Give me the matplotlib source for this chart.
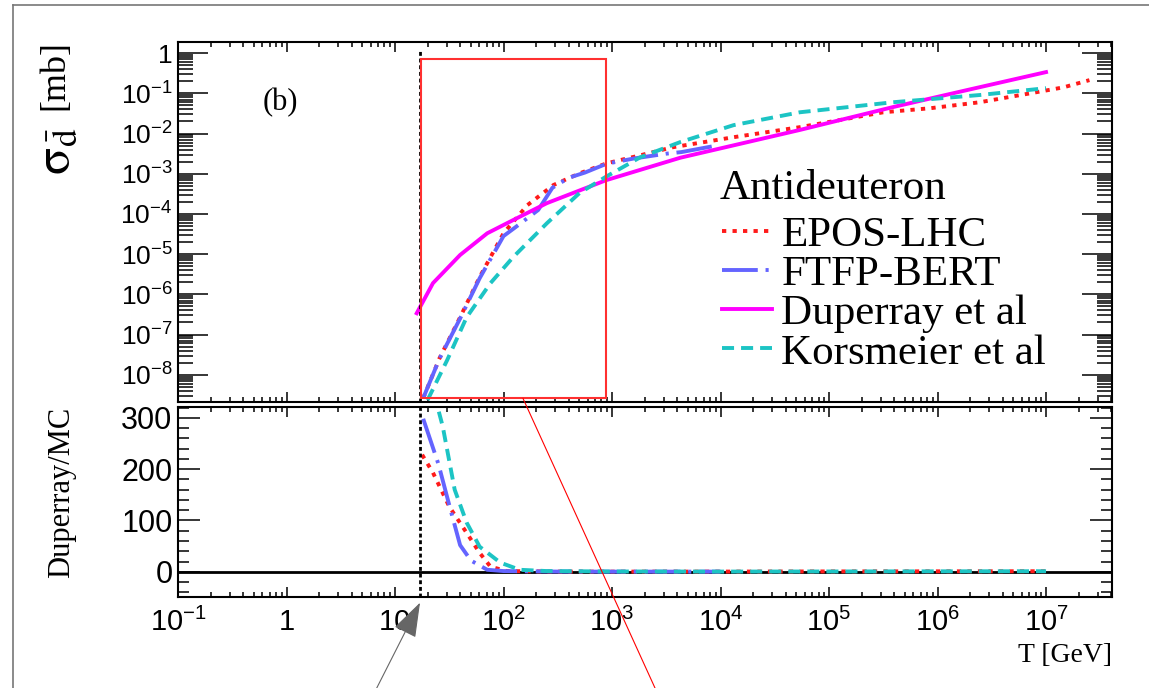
import numpy as np
import matplotlib
matplotlib.use("Agg")
import matplotlib.pyplot as plt
from matplotlib.ticker import LogLocator, MultipleLocator, FixedLocator, FuncFormatter, NullFormatter
from matplotlib.patches import Rectangle, ConnectionPatch
from matplotlib.lines import Line2D

plt.rcParams['mathtext.fontset'] = 'stix'

SANS = 'Liberation Sans'
SERIF = 'Liberation Serif'

# cross sections, log10(T/GeV) vs log10(sigma/mb)
epos_logT = [1.26, 1.41, 1.60, 1.78, 2.00, 2.22, 2.46, 2.70, 2.95, 3.26, 3.56, 4.12, 4.73, 5.50, 5.93, 6.39, 6.85, 7.16, 7.40]
epos_logs = [-8.58, -7.59, -6.57, -5.57, -4.48, -3.78, -3.28, -2.99, -2.74, -2.54, -2.34, -2.09, -1.84, -1.47, -1.37, -1.22, -1.00, -0.85, -0.67]

ftfp_logT = [1.26, 1.41, 1.60, 1.78, 2.00, 2.10, 2.32, 2.45, 2.60, 2.75, 2.95, 3.20, 3.50, 3.64, 3.98]
ftfp_logs = [-8.58, -7.60, -6.60, -5.60, -4.55, -4.35, -3.90, -3.35, -3.10, -2.97, -2.75, -2.62, -2.50, -2.46, -2.29]

dup_logT = [1.20, 1.35, 1.60, 1.85, 2.09, 2.40, 2.945, 3.63, 4.73, 5.59, 6.30, 7.00]
dup_logs = [-6.47, -5.72, -5.02, -4.48, -4.15, -3.73, -3.16, -2.60, -1.91, -1.34, -0.90, -0.47]

kors_logT = [1.30, 1.48, 1.66, 1.88, 2.09, 2.40, 2.70, 2.94, 3.26, 3.63, 4.12, 4.73, 5.59, 6.39, 7.00]
kors_logs = [-8.63, -7.64, -6.57, -5.72, -5.07, -4.23, -3.48, -3.08, -2.59, -2.21, -1.79, -1.47, -1.22, -1.04, -0.87]

# ratio Duperray / MC
r_epos_logT = [1.25, 1.35, 1.50, 1.66, 1.78, 1.88, 2.03, 2.50, 3.00, 4.00, 5.00, 6.00, 7.00]
r_epos = [228, 193, 127, 76, 37, 10, 1.5, 0.5, 0.4, 0.5, 0.8, 1.0, 1.2]

r_ftfp_logT = [1.26, 1.40, 1.50, 1.60, 1.70, 1.85, 2.00, 2.50, 3.00, 4.00]
r_ftfp = [298, 210, 130, 52, 22, 4, 1.5, 0.5, 0.4, 0.4]

r_kors_logT = [1.28, 1.40, 1.44, 1.55, 1.66, 1.78, 1.97, 2.15, 2.40, 3.00, 4.00, 5.00, 6.00, 7.00]
r_kors = [420, 315, 283, 160, 96, 49, 18, 4, 1.5, 0.7, 0.5, 0.7, 1.0, 1.2]

labels = ['EPOS-LHC', 'FTFP-BERT', 'Duperray et al', 'Korsmeier et al']
colors = ['#ff1a1a', '#6464ff', '#ff00ff', '#1cc4c4']
LW = 2.8
styles = [(0, (1.1, 1.6)), (0, (9.2, 2.0, 0.8, 2.0)), '-', (0, (3.1, 1.8))]

sigma_decades = [1e-8, 1e-7, 1e-6, 1e-5, 1e-4, 1e-3, 1e-2, 1e-1, 1.0]

T_cut = 17.0          # vertical marker
box_x = (17.5, 880.0)  # highlighted region
box_y = (2.6e-9, 0.7)

W, H = 1149, 688
fig = plt.figure(figsize=(W / 100, H / 100), dpi=100)

def fx(px):
    return px / W

def fy(py):
    return 1 - py / H

L, R = 178, 1112
ax1 = fig.add_axes([fx(L), fy(402), fx(R) - fx(L), fy(42) - fy(402)])
ax2 = fig.add_axes([fx(L), fy(597), fx(R) - fx(L), fy(407) - fy(597)])

xlim = (0.1, 10 ** 7.608)


def pow_label(v, pos):
    e = int(round(np.log10(v)))
    if e == 0:
        return '1'
    if e == 1:
        return '10'
    return r'$\mathregular{10^{%d}}$' % e


for ax in (ax1, ax2):
    ax.set_xscale('log')
    ax.set_xlim(*xlim)
    ax.xaxis.set_major_locator(FixedLocator([10.0 ** k for k in range(-1, 8)]))
    ax.xaxis.set_minor_locator(LogLocator(base=10, subs=range(2, 10), numticks=100))
    ax.xaxis.set_minor_formatter(NullFormatter())
    for s in ax.spines.values():
        s.set_linewidth(1.5)
    ax.tick_params(which='both', direction='in', top=True, right=True, width=1.1)
    ax.tick_params(axis='x', which='major', length=7.2)
    ax.tick_params(axis='x', which='minor', length=3.6)

# top panel
ax1.set_yscale('log')
ax1.set_ylim(2.1e-9, 1.9)
ax1.yaxis.set_major_locator(FixedLocator(sigma_decades))
ax1.yaxis.set_minor_locator(LogLocator(base=10, subs=range(2, 10), numticks=30))
ax1.yaxis.set_minor_formatter(NullFormatter())
ax1.yaxis.set_major_formatter(FuncFormatter(pow_label))
ax1.tick_params(axis='y', which='major', length=21.6, pad=4)
ax1.tick_params(axis='y', which='minor', length=10.8)
ax1.tick_params(axis='x', labelbottom=False)
for t in ax1.get_yticklabels():
    t.set_fontfamily(SANS)
    t.set_fontsize(19)

series = [(epos_logT, epos_logs), (ftfp_logT, ftfp_logs), (dup_logT, dup_logs), (kors_logT, kors_logs)]
handles = []
for (lt, ls_), lab, c, st in zip(series, labels, colors, styles):
    h, = ax1.plot(10 ** np.array(lt), 10 ** np.array(ls_), color=c, lw=LW, ls=st, label=lab,
                  dash_capstyle='butt', zorder=3)
    handles.append(h)

ax1.vlines(T_cut, 2.1e-9, 1.3, color='black', lw=2.0, ls=(0, (1.4, 1.0)), zorder=4)
ax1.add_patch(Rectangle((box_x[0], box_y[0]), box_x[1] - box_x[0], box_y[1] - box_y[0],
                        fill=False, edgecolor='#ff3030', lw=1.5, zorder=5))

ax1.text((280 - L) / (R - L), (402 - 103) / 360, '(b)', transform=ax1.transAxes,
         ha='center', va='center', fontsize=22, fontfamily=SERIF)

# legend header and entries
ax1.text((720 - L) / (R - L), (402 - 189) / 360, 'Antideuteron', transform=ax1.transAxes,
         ha='left', va='center', fontsize=31, fontfamily=SERIF)
leg = ax1.legend(handles, labels, loc='upper left',
                 bbox_to_anchor=((722 - L) / (R - L), (402 - 216) / 360),
                 frameon=False, prop={'family': SERIF, 'size': 31},
                 handlelength=1.16, handletextpad=0.22, labelspacing=0.0,
                 borderpad=0, borderaxespad=0)

# bottom panel
ax2.set_ylim(-49, 321)
ax2.yaxis.set_major_locator(FixedLocator([0, 100, 200, 300]))
ax2.yaxis.set_minor_locator(MultipleLocator(20))
ax2.tick_params(axis='y', which='major', length=16, pad=4)
ax2.tick_params(axis='y', which='minor', length=8)
ax2.tick_params(axis='x', which='major', pad=8)
ax2.xaxis.set_major_formatter(FuncFormatter(pow_label))
for t in ax2.get_yticklabels():
    t.set_fontfamily(SANS)
    t.set_fontsize(22)
for t in ax2.get_xticklabels():
    t.set_fontfamily(SANS)
    t.set_fontsize(21)

ax2.axhline(0, color='black', lw=2.0, zorder=2)
ratios = [(r_epos_logT, r_epos), (r_ftfp_logT, r_ftfp), (None, None), (r_kors_logT, r_kors)]
for (lt, rv), c, st in zip(ratios, colors, styles):
    if lt is None:
        continue
    ax2.plot(10 ** np.array(lt), rv, color=c, lw=LW, ls=st, dash_capstyle='butt', zorder=3)
ax2.axvline(T_cut, color='black', lw=2.0, ls=(0, (1.4, 1.0)), zorder=4)

# axis titles
fig.text(fx(55), fy(40), '[mb]', rotation=90, ha='center', va='top', fontsize=26, fontfamily=SERIF)
fig.text(fx(56), fy(128), r'$\mathrm{\sigma}_{\bar{\mathrm{d}}}$', rotation=90, ha='center', va='top', fontsize=36)
fig.text(fx(62), fy(407), 'Duperray/MC', rotation=90, ha='center', va='top', fontsize=22, fontfamily=SERIF)
fig.text(fx(R), fy(655), 'T [GeV]', ha='right', va='center', fontsize=20, fontfamily=SERIF)

# zoom guide from the box and pointer to the marker
con = ConnectionPatch(xyA=(151, box_y[0]), coordsA=ax1.transData,
                      xyB=(fx(655), 0), coordsB=fig.transFigure,
                      color='red', lw=0.8, zorder=6)
fig.add_artist(con)
ax2.annotate('', xy=(T_cut, -0.03), xycoords=('data', 'axes fraction'),
             xytext=(fx(375), -0.005), textcoords='figure fraction',
             arrowprops=dict(arrowstyle='-|>,head_length=1.1,head_width=0.38', mutation_scale=20,
                             color='#666666', lw=0.8, shrinkA=0, shrinkB=0),
             annotation_clip=False)

# page frame
fig.add_artist(Line2D([fx(13), fx(13)], [0, fy(5)], transform=fig.transFigure, color='#777777', lw=1.2))
fig.add_artist(Line2D([fx(13), 1], [fy(5), fy(5)], transform=fig.transFigure, color='#777777', lw=1.2))

fig.savefig('out.png', dpi=100)
